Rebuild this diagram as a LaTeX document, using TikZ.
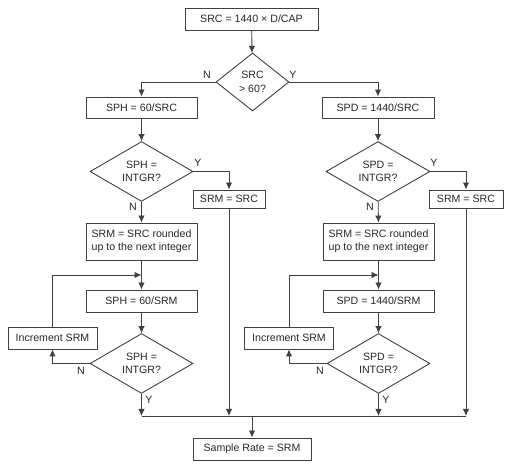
\documentclass[tikz,border=0pt]{standalone}
\usepackage{fontspec}
\setmainfont{Liberation Sans}
\usetikzlibrary{shapes.geometric,arrows.meta}
\begin{document}
\begin{tikzpicture}[x=1pt,y=-1pt,
  every node/.style={font=\fontsize{10.6}{13.5}\selectfont, text=black!85},
  box/.style={draw=black!75, line width=0.9pt, rectangle, inner sep=0pt, align=center},
  dia/.style={draw=black!75, line width=0.9pt, diamond, inner sep=0pt, align=center},
  conn/.style={draw=black!75, line width=0.9pt},
  arr/.style={conn, -{Latex[length=7pt,width=6.5pt]}},
  lbl/.style={inner sep=0pt}]
\useasboundingbox (0,0) rectangle (512,470);
% nodes
\node[box, minimum width=133pt, minimum height=22pt] (src) at (251.5,19) {SRC = 1440 × D/CAP};
\node[dia, minimum width=73pt, minimum height=58pt] (d1) at (252.5,82) {SRC\\> 60?};
\node[box, minimum width=111pt, minimum height=21pt] (sph) at (141.5,107.5) {SPH = 60/SRC};
\node[box, minimum width=112pt, minimum height=21pt] (spd) at (378,107.5) {SPD = 1440/SRC};
\node[dia, minimum width=103pt, minimum height=58pt] (d2L) at (141.5,171.5) {SPH =\\INTGR?};
\node[dia, minimum width=104pt, minimum height=58pt] (d2R) at (378,171.5) {SPD =\\INTGR?};
\node[box, minimum width=72pt, minimum height=18pt] (srmL) at (229,199) {SRM = SRC};
\node[box, minimum width=74pt, minimum height=18pt] (srmR) at (466,199) {SRM = SRC};
\node[box, minimum width=111pt, minimum height=37pt] (roundL) at (141.5,241.5) {SRM = SRC rounded\\up to the next integer};
\node[box, minimum width=111pt, minimum height=37pt] (roundR) at (378.5,241.5) {SRM = SRC rounded\\up to the next integer};
\node[box, minimum width=111pt, minimum height=22pt] (sph2) at (141.5,301) {SPH = 60/SRM};
\node[box, minimum width=111pt, minimum height=22pt] (spd2) at (378.5,301) {SPD = 1440/SRM};
\node[dia, minimum width=103pt, minimum height=59pt] (d3L) at (141.5,363.5) {SPH =\\INTGR?};
\node[dia, minimum width=103pt, minimum height=59pt] (d3R) at (378.5,363.5) {SPD =\\INTGR?};
\node[box, minimum width=89pt, minimum height=22pt] (incL) at (52.5,338) {Increment SRM};
\node[box, minimum width=89pt, minimum height=22pt] (incR) at (289,338) {Increment SRM};
\node[box, minimum width=118pt, minimum height=22pt] (sample) at (252,449) {Sample Rate = SRM};
% junction coordinates
\coordinate (jL) at (141.5,275);
\coordinate (jR) at (378.5,275);
\coordinate (bL) at (141.5,416);
\coordinate (bSL) at (229,416);
\coordinate (bM) at (252,416);
\coordinate (bR) at (378.5,416);
\coordinate (bSR) at (466,416);
% connectors
\draw[arr] (src) -- (d1);
\draw[arr] (d1.west) -| (sph.north);
\draw[arr] (d1.east) -| (spd.north);
\draw[arr] (sph) -- (d2L);
\draw[arr] (spd) -- (d2R);
\draw[arr] (d2L.east) -| (srmL.north);
\draw[arr] (d2R.east) -| (srmR.north);
\draw[arr] (d2L) -- (roundL);
\draw[arr] (d2R) -- (roundR);
\draw[arr] (roundL) -- (sph2);
\draw[arr] (roundR) -- (spd2);
\draw[arr] (incL.north) |- (jL);
\draw[arr] (incR.north) |- (jR);
\draw[arr] (sph2) -- (d3L);
\draw[arr] (spd2) -- (d3R);
\draw[arr] (d3L.west) -| (incL.south);
\draw[arr] (d3R.west) -| (incR.south);
\draw[arr] (d3L.south) -- (bL);
\draw[arr] (d3R.south) -- (bR);
\draw[arr] (srmL.south) -- (bSL);
\draw[arr] (srmR.south) -- (bSR);
\draw[conn] (bL) -- (bSR);
\draw[arr] (bM) -- (sample);
% labels
\node[lbl] at (207,75) {N};
\node[lbl] at (293,75) {Y};
\node[lbl] at (198,163) {Y};
\node[lbl] at (133,207) {N};
\node[lbl] at (434,163) {Y};
\node[lbl] at (370,207) {N};
\node[lbl] at (81,371) {N};
\node[lbl] at (149,400) {Y};
\node[lbl] at (320,371) {N};
\node[lbl] at (386,400) {Y};
\end{tikzpicture}
\end{document}
